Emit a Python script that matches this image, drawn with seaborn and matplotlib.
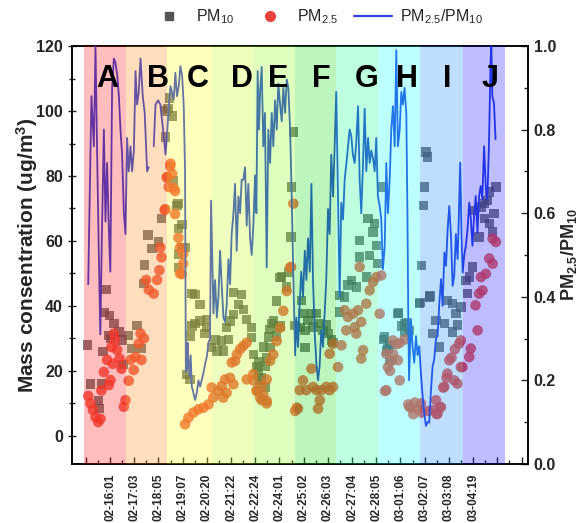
import numpy as np
import pandas as pd
import matplotlib
matplotlib.use("Agg")
import matplotlib.pyplot as plt
from matplotlib.lines import Line2D
from matplotlib.ticker import FixedLocator, MultipleLocator
import seaborn as sns

# ─── Data (x = sample index) ─────────────────────────────────────────────
PM10_X = [1.9, 3.9, 8.7, 9.1, 10.7, 11.6, 12.6, 13.6, 14.9, 15.6, 16.7, 18.4, 21.5, 23.5, 24.0,
          27.6, 29.7, 32.8, 35.5, 37.0, 37.5, 39.6, 42.0, 46.2, 47.9, 50.4, 50.8, 52.0, 52.8, 54.7,
          55.0, 57.4, 58.2, 58.6, 60.5, 60.7, 62.5, 58.4, 58.4,
          63.6, 65.6, 65.6, 66.7, 68.7, 71.8, 71.8, 75.9, 75.9, 79.0, 82.2, 85.2, 86.2, 88.3, 89.3,
          90.4, 92.5, 92.5, 95.5, 97.6, 98.6, 100.7, 103.8, 103.8, 104.8, 66.7, 68.7, 74.9, 81.1,
          106.9, 108.0, 108.4, 109.0, 110.0, 111.0, 112.0, 112.0, 113.0, 114.1, 115.2, 115.2, 116.2,
          117.2, 119.3, 119.3, 121.4, 121.4, 122.2, 125.5, 126.5, 128.2, 128.6, 129.6,
          130.7, 133.7, 134.5, 135.6, 136.7, 136.8, 138.7, 140.8, 141.8, 143.9, 146.0, 148.0, 150.0,
          151.1, 153.1, 154.3,
          158.3, 158.3, 161.4, 163.5, 165.5, 168.6, 170.7, 170.7, 174.8, 175.9, 176.9, 179.0, 180.0,
          181.0, 182.0, 185.1,
          185.3, 186.2, 187.4, 188.2, 189.3, 189.4, 194.4, 194.6, 196.7, 198.5, 198.8, 199.8, 201.6,
          207.6, 208.0, 209.0, 210.3, 210.7, 211.8, 212.8, 213.8, 214.2, 215.9, 218.0, 220.0, 223.1,
          225.1, 228.2, 228.2, 230.3, 231.3, 233.4,
          236.5, 237.5, 238.6, 240.7, 241.7, 244.7, 245.8, 247.9, 247.9, 250.0, 251.0, 251.0, 253.1,
          254.0, 255.1]
PM10_Y = [28, 16, 11, 8.4, 16, 26, 38, 45, 31, 37, 30, 34.6, 32, 29.5, 22,
          31, 27, 34, 27, 47, 52.6, 61.8, 57.6, 59.7, 66.9, 92, 100, 100.7, 104, 98.5,
          78.7, 71, 71.5, 63.8, 65, 58, 58, 56, 51.8,
          19, 17.4, 30.8, 33.8, 43.6, 40.5, 35.4, 33.3, 35.9, 27.2, 26.2, 29.2, 26.2, 33.3, 29.7,
          35.4, 37.4, 44.1, 40.5, 43.6, 39, 35.9, 33.3, 30.3, 25.1, 43.8, 34.6, 31.5, 29.5,
          21.2, 20, 23, 17.1, 18, 27.4, 21.5, 15.1, 24, 30.5, 27.2, 32.8, 34.6,
          35.4, 41.5, 30.8, 48.7, 33.8, 48.9, 45.8, 50.3, 61.2, 76.6, 93.5,
          34, 33.3, 41.7, 37.6, 32.5, 27.2, 35.6, 37.6, 33.5, 37.6, 34.6, 32.5, 34.1,
          31.5, 29.5, 28.7,
          43.3, 38.2, 42.8, 46.4, 47.9, 45.9, 55.1, 60.2, 48.9, 66.9, 55.6, 62.8, 65.3,
          58.7, 53, 76.6,
          29.7, 30.5, 26.2, 26.9, 23.3, 28.2, 37.6, 37.9, 33.8, 34.6, 31.8, 34.9, 32.5,
          40.7, 41, 52.5, 71, 76.6, 87.4, 85.8, 42.8, 43.1, 31.5, 35.6, 27.4, 34.6,
          41.7, 40.7, 32, 37.6, 34.1, 39.7,
          47.9, 43.8, 48.9, 52, 69.4, 61.2, 70.5, 71.5, 66.9, 72.5, 75.1, 65.3, 62.8,
          68.4, 76.6]

PM25_X = [2.5, 3.9, 5.4, 7.0, 8.7, 10.1, 10.7, 12.2, 14.2, 15.3, 16.3, 16.9, 17.7, 18.4, 19.0,
          20.4, 21.9, 23.1, 24.6,
          25.6, 27.6, 28.7, 30.7, 31.8, 33.8, 34.9, 35.5, 37.0, 38.4, 40.0, 43.1, 45.2, 46.6, 47.2,
          47.9, 49.9, 50.2, 51.2, 51.4, 52.4, 53.3, 53.5, 54.5, 55.3, 56.3,
          56.3, 58.4, 59.4, 59.4, 60.5, 61.3, 61.3, 62.5, 64.6, 67.7, 70.8, 73.9, 77.0, 79.0, 80.0,
          83.2, 85.2, 86.2, 87.3, 88.3, 90.4, 91.4, 92.5, 93.5, 94.6, 96.6, 98.6, 100.7,
          100.7, 104.8, 106.9, 109.0, 110.0, 111.0, 113.1, 113.1, 115.2, 117.2, 119.3, 121.4, 123.4,
          125.5, 127.5, 128.2, 129.6, 104.8, 106.9, 110.0, 113.1,
          130.7, 131.7, 132.5, 133.5, 135.6, 137.6, 140.8, 141.8, 143.9, 144.9, 146.0, 147.0, 150.0,
          152.1, 152.1, 154.2, 154.2,
          157.3, 159.4, 161.4, 162.4, 163.5, 166.6, 167.6, 168.6, 169.7, 170.7, 171.7, 171.7, 172.8,
          174.8, 176.9, 179.0, 181.0, 183.1, 184.1,
          186.4, 187.2, 187.2, 188.2, 189.5, 190.5, 191.3, 191.5, 193.6, 194.4, 195.5, 195.7, 198.8,
          200.8, 201.6, 202.9, 203.9, 204.9, 207.0,
          208.7, 209.0, 213.2, 215.9, 218.0, 218.4, 219.0, 220.4, 221.1, 222.5, 223.1, 224.5, 225.1,
          226.2, 227.6, 229.3, 229.7, 231.3, 232.3, 233.4,
          233.4, 234.4, 238.6, 239.6, 242.5, 243.8, 244.7, 245.8, 246.8, 248.9, 251.0, 253.1, 253.1,
          255.1]
PM25_Y = [12.3, 10, 8, 5.8, 4.3, 5.3, 14, 19.7, 23.4, 15.7, 17.2, 27.4, 22.2, 31.5, 29.5,
          26.5, 23.8, 20.7, 9,
          11, 17, 23.4, 20.3, 24.3, 28.4, 31.5, 23.4, 30, 48, 45, 43.8, 48, 51, 58,
          55, 69.5, 69.8, 79.5, 79.7, 76.6, 83, 83.8, 80.7, 76.4, 75.4,
          68.3, 61, 58, 50, 49.8, 56, 53, 3.6, 5.6, 7.2, 8.2, 8.7, 9.7, 14.9, 11.8,
          13.8, 15.4, 11.8, 17.4, 13.3, 17.9, 22.6, 15.9, 23.1, 25.1, 26.7, 27.7, 28.7,
          17.4, 19, 13.8, 11.8, 15.4, 12.8, 10.8, 17.4, 23.1, 25.1, 29.2, 33.3, 38.5,
          44.6, 51.8, 52, 71.5, 17.1, 14.1, 11, 10,
          7.7, 8.7, 8.4, 14.1, 17.1, 14.1, 20.7, 15.1, 14.1, 8.4, 11, 14.1, 15.1,
          14.1, 25.3, 15.1, 28.4,
          21.2, 27.9, 38.7, 32.5, 36.6, 37.6, 33.5, 31.5, 38.7, 52, 35.1, 23.8, 26.4,
          40.7, 44.8, 47.4, 48.9, 37.6, 49.4,
          13.8, 25.3, 14.1, 21.2, 20, 23.1, 29.4, 25.1, 28.2, 23.3, 17.1, 28.7, 29.7,
          9.7, 8.9, 8.7, 6.7, 10.3, 8.2,
          10, 7.2, 7.7, 7.9, 11, 6.7, 6.9, 8.7, 8.9, 14.9, 15.1, 17.9, 19.2,
          23.3, 24.1, 17.1, 26.7, 16.1, 28.4, 21.2,
          29.4, 21.2, 24.3, 26.9, 40.2, 32.5, 43.8, 48.9, 44.8, 49.9, 54.6, 53, 60.7,
          59.7]

# ratio line, None marks a gap
RATIO_X = [2.5, 4.5, 6.0, 7.0, 8.0, 9.0, 10.0, 11.0, 12.2, 13.2, 14.2, 15.3, 16.2, 17.3, 18.4,
           19.4, 20.5, 21.5, 22.5, 23.5, 24.6, 25.6, 26.6, 27.6, 28.7, 29.7, 30.8, 31.8, 32.8,
           33.8, 34.9, 36.3, 37.5, 39.0, 40.0, None,
           43.1, 44.2, 45.8, 47.2, 48.3, 49.3, 50.4, 51.4, 52.4, 53.5, 54.5, 55.5, 56.5, 57.5, 58.6,
           59.6, 60.7, 61.7, 62.5, 63.0, 63.3, 63.6, 64.1, 64.6, 65.3, 66.0, 66.7, 67.7, 68.7, 69.8,
           70.8, 71.8, 72.8, 73.9, 75.0, 76.0, 77.0, 78.0, 78.6, 80.1, 81.1, 82.2, 83.2, 84.2, 85.2,
           86.3, 87.3, 88.3, 89.4, 90.4, 91.4, 92.5, 93.5, 94.5, 95.6, 96.6, 97.6, 98.6, 99.7, 100.7,
           101.7, 102.8, 103.8, 104.8, 105.9, 106.7, 107.5, 108.3, 109.0, 110.0, 111.0, 112.0, 113.1,
           114.1, 115.2, 116.2, 117.2, 118.3, 119.3, 120.3, 121.4, 122.4, 123.4, 124.5, 125.5, 126.5,
           127.6, 128.6, 129.6, 130.7, 131.5, 132.5, 133.5, 134.5, 135.6, 136.7, 137.7, 138.7, 139.8,
           140.8, 141.8, 142.9, 143.9, 144.9, 145.9, 146.9, 148.0, 149.0, 150.0, 151.1, 152.1, 153.1,
           154.2, 155.2, 156.2, 157.3, 158.3, 159.3, 160.4, 161.4, 162.5, 163.5, 164.5, 165.5, 166.5,
           167.6, 168.6, 169.7, 170.7, 171.7, 172.8, 173.8, 174.8, 175.9, 176.9, 177.9, 179.0, 180.0,
           181.0, 182.0, 183.0, 184.1, 185.1, 186.2, 187.2, 188.2, 189.3, 190.3, 191.3, 192.4, 193.4,
           194.4, 195.5, 196.5, 197.5, 198.5, 199.6, 200.3, 200.8, 201.3, 202.5, 203.5, 204.5, 205.6,
           206.6, 207.6, 208.6, 209.7, 210.7, 211.8, 212.8, 213.8, 214.8, 215.9, 216.9, 218.0, 219.0,
           220.0, 221.1, 222.1, 223.2, 224.2, 225.2, 226.2, 227.3, 228.3, 229.3, 230.3, 231.4, 232.2,
           233.0, 233.8, 234.5, 235.5, 236.5, 237.5, 238.6, 239.6, 240.6, 241.6, 242.6, 243.7, 244.7,
           245.7, 246.7, 247.8, 248.8, 249.8, 250.8, 251.8, 252.3, 252.9, 253.9, 254.9]
RATIO_Y = [0.43, 0.88, 0.76, 1.0, 0.75, 0.52, 0.31, 0.55, 0.80, 0.58, 0.72, 0.56, 0.46, 0.90, 0.97,
           0.96, 0.93, 0.88, 0.80, 0.74, 0.60, 0.55, 0.78, 0.70, 0.76, 0.70, 0.75, 0.94, 0.86,
           0.89, 0.97, 0.88, 0.84, 0.70, 0.71, None,
           0.76, 0.86, 0.87, 0.86, 0.82, 0.785, 0.74, 0.79, 0.856, 0.904, 0.888, 0.872, 0.936, 0.88,
           0.904, 0.952, 0.928, 0.856, 0.70, 0.22, 0.26, 0.225, 0.29, 0.249, 0.21, 0.26, 0.185, 0.17,
           0.153, 0.17, 0.20, 0.185, 0.20, 0.218, 0.24, 0.257, 0.29, 0.30, 0.63, 0.36, 0.44, 0.35,
           0.40, 0.51, 0.43, 0.35, 0.34, 0.38, 0.49, 0.43, 0.55, 0.60, 0.67, 0.51, 0.64, 0.60, 0.68,
           0.68, 0.71, 0.57, 0.67, 0.54, 0.50, 0.57, 0.69, 0.60, 0.94, 0.80, 0.89, 0.95, 0.76, 0.84,
           0.47, 0.80, 0.72, 0.84, 0.76, 0.87, 0.80, 0.91, 0.86, 0.82, 0.90, 0.84, 0.92, 0.90, 0.80,
           0.64, 0.45, 0.26, 0.35, 0.28, 0.38, 0.46, 0.40, 0.51, 0.44, 0.54, 0.46, 0.67, 0.44, 0.31,
           0.24, 0.20, 0.235, 0.32, 0.28, 0.36, 0.44, 0.61, 0.55, 0.74, 0.64, 0.76, 0.89, 0.64, 0.40,
           0.625, 0.585, 0.68, 0.72, 0.76, 0.80, 0.785, 0.74, 0.72, 0.77, 0.856, 0.68, 0.60, 0.72,
           0.85, 0.70, 0.78, 0.72, 0.75, 0.73, 0.70, 0.78, 0.64, 0.62, 0.585, 0.466, 0.52, 0.72, 0.60,
           0.68, 0.80, 0.856, 0.76, 0.99, 0.76, 0.80, 0.89, 0.86, 0.90, 0.84, 0.60, 0.36, 0.20, 0.346,
           0.28, 0.242, 0.306, 0.26, 0.282, 0.22, 0.163, 0.12, 0.091, 0.10, 0.099, 0.17, 0.234, 0.25,
           0.30, 0.306, 0.38, 0.442, 0.378, 0.506, 0.474, 0.56, 0.617, 0.545, 0.426, 0.45, 0.55, 0.49,
           0.60, 0.721, 0.55, 0.458, 0.50, 0.522, 0.56, 0.625, 0.585, 0.522, 0.593, 0.641, 0.553,
           0.641, 0.665, 0.633, 0.76, 0.665, 0.633, 0.761, 0.96, 1.0, 0.88, 0.864, 0.777]

PERIOD_LABELS = ["A", "B", "C", "D", "E", "F", "G", "H", "I", "J"]
PERIOD_EDGES = [0, 26, 51.5, 79, 104.5, 130.5, 156, 182, 208, 234.5, 260.5]
PERIOD_LABEL_X = [14, 45.8, 70.6, 97.8, 120, 147, 175, 200, 224.8, 251.4]
PERIOD_COLORS = ["#ff0000", "#ff8000", "#ffff00", "#c0ff00", "#80ff00",
                 "#00e000", "#00ff80", "#00ffff", "#0080ff", "#0000ff"]

TIME_LABELS = ["02-16:01", "02-17:03", "02-18:05", "02-19:07", "02-20:20", "02-21:22",
               "02-22:24", "02-24:01", "02-25:02", "02-26:03", "02-27:04", "02-28:05",
               "03-01:06", "03-02:07", "03-03:08", "03-04:19"]

# ─── Style ────────────────────────────────────────────────────────────────
sns.set_style("ticks")
plt.rcParams["font.family"] = ["Liberation Sans", "DejaVu Sans"]
plt.rcParams["mathtext.default"] = "regular"

fig = plt.figure(figsize=(5.86, 5.23), dpi=100)
ax = fig.add_axes([0.123, 0.113, 0.778, 0.799])
ax2 = ax.twinx()

pm10 = pd.DataFrame({"x": PM10_X, "y": PM10_Y})
pm25 = pd.DataFrame({"x": PM25_X, "y": PM25_Y})
sns.scatterplot(data=pm10, x="x", y="y", ax=ax, marker="s", s=46, color="#555555",
                alpha=0.75, edgecolor="none", zorder=2)
sns.scatterplot(data=pm25, x="x", y="y", ax=ax, marker="o", s=58, color="#ec4a3a",
                alpha=0.8, edgecolor="none", zorder=3)

# ratio line split into segments at the gaps
rx = np.array([np.nan if v is None else v for v in RATIO_X], dtype=float)
ry = np.array([np.nan if v is None else v for v in RATIO_Y], dtype=float)
seg = np.cumsum(np.isnan(rx))
ratio = pd.DataFrame({"x": rx, "y": ry, "seg": seg}).dropna()
sns.lineplot(data=ratio, x="x", y="y", units="seg", estimator=None, sort=False,
             ax=ax2, color="#2f45e0", lw=1.3, zorder=4)

# transparent coloured period bands laid over the data
for i, lab in enumerate(PERIOD_LABELS):
    ax2.axvspan(PERIOD_EDGES[i], PERIOD_EDGES[i + 1], color=PERIOD_COLORS[i],
                alpha=0.26, lw=0, zorder=5)
    ax2.text(PERIOD_LABEL_X[i], 0.922, lab, transform=ax2.get_xaxis_transform(),
             ha="center", va="center", fontsize=22, fontweight="bold", color="black", zorder=6)

ax.set_xlim(-7.5, 275)
ax.set_ylim(-8.6, 120)
ax2.set_ylim(0, 1.0)

major = list(range(1, 272, 15))
ax.xaxis.set_major_locator(FixedLocator(major))
ax.xaxis.set_minor_locator(FixedLocator([m + 7.5 for m in major[:-1]]))
ax.set_xticklabels([""] + TIME_LABELS + ["", ""], rotation=90, fontsize=8.5, fontweight="bold")
ax.yaxis.set_major_locator(MultipleLocator(20))
ax.yaxis.set_minor_locator(MultipleLocator(10))
ax2.yaxis.set_minor_locator(MultipleLocator(0.1))
ax2.set_yticks(np.arange(0, 1.01, 0.2))
ax2.set_yticklabels([f"{v:.1f}" for v in np.arange(0, 1.01, 0.2)])

ax.tick_params(axis="x", which="major", direction="in", length=5, width=1, pad=7)
ax.tick_params(axis="x", which="minor", direction="in", length=3, width=1)
ax.tick_params(axis="y", which="major", direction="inout", length=6, width=1, labelsize=11.5)
ax.tick_params(axis="y", which="minor", direction="inout", length=4, width=1)
ax2.tick_params(axis="y", which="major", direction="in", length=5, width=1, labelsize=11.5, pad=4)
ax2.tick_params(axis="y", which="minor", direction="in", length=3, width=1)
for lbl in ax.get_yticklabels() + ax2.get_yticklabels():
    lbl.set_fontweight("bold")

ax.set_xlabel("")
ax.set_ylabel("Mass consentration (ug/m$^3$)", fontsize=15, fontweight="bold", labelpad=-3)
ax2.set_ylabel("PM$_{2.5}$/PM$_{10}$", fontsize=13, fontweight="bold", labelpad=2)

for a in (ax, ax2):
    for sp in a.spines.values():
        sp.set_linewidth(1.1)
        sp.set_color("black")
        sp.set_visible(True)

handles = [
    Line2D([], [], marker="s", color="#555555", ls="none", markersize=6),
    Line2D([], [], marker="o", color="#e8423c", ls="none", markersize=7),
    Line2D([], [], color="#2f45e0", lw=1.6),
]
fig.legend(handles, ["PM$_{10}$", "PM$_{2.5}$", "PM$_{2.5}$/PM$_{10}$"], loc="center",
           bbox_to_anchor=(0.54, 0.968), ncol=3, frameon=False, fontsize=11.5,
           handlelength=2.4, columnspacing=1.0, handletextpad=0.5)

fig.savefig("out.png", dpi=100)
